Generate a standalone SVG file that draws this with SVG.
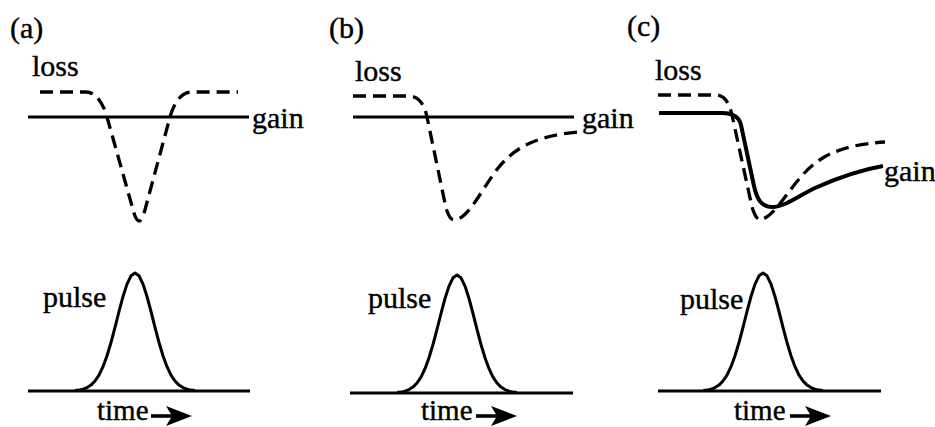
<svg xmlns="http://www.w3.org/2000/svg" width="935" height="427" viewBox="0 0 935 427">
<style>
text{font-family:'Liberation Serif','DejaVu Serif',serif;font-size:30px;fill:#000;stroke:#000;stroke-width:0.4}
.solid{fill:none;stroke:#000;stroke-width:3;stroke-linecap:butt;stroke-linejoin:round}
.thick{fill:none;stroke:#000;stroke-width:4;stroke-linejoin:round}
.dash{fill:none;stroke:#000;stroke-width:3.3;stroke-dasharray:13 7}
.tm{font-size:29px}
</style>
<defs>
<polyline id="pulse" class="solid" points="-60,390.5 -56,390.1 -52,389.2 -48,387.6 -44,385.1 -40,381 -36,375.1 -32,366.7 -28,355.8 -24,342.5 -20,327.4 -16,311.5 -12,296.5 -8,284.1 -4,275.8 0,273 4,275.8 8,284.1 12,296.5 16,311.5 20,327.4 24,342.5 28,355.8 32,366.7 36,375.1 40,381 44,385.1 48,387.6 52,389.2 56,390.1 60,390.5"/>
<g id="arrow">
<path d="M0,0 H24" stroke="#000" stroke-width="3.6"/>
<polygon points="15,-10 41,0 15,10 21,0" fill="#000"/>
</g>
</defs>
<rect width="935" height="427" fill="#fff"/>

<g id="panel-a" font-family="Liberation Serif, DejaVu Serif, serif">
<text x="10" y="38">(a)</text>
<text x="32" y="76">loss</text>
<line class="solid" x1="28" y1="117" x2="249" y2="117"/>
<text x="252" y="128">gain</text>
<path class="dash" d="M40,92 L86,92 C96,92 103,103 107,117 L132,206 C135,218 137,221 139,221 C141,221 143,218 146,206 L170,117 C174,103 181,92 192,92 L238,92"/>
<line class="solid" x1="28" y1="391" x2="250" y2="391"/>
<use href="#pulse" transform="translate(135,0)"/>
<text x="43" y="307">pulse</text>
<text class="tm" x="97" y="420">time</text>
<use href="#arrow" transform="translate(151,416)"/>
</g>

<g id="panel-b" font-family="Liberation Serif, DejaVu Serif, serif">
<text x="329" y="38">(b)</text>
<text x="355" y="81">loss</text>
<line class="solid" x1="353" y1="117" x2="574" y2="117"/>
<text x="582" y="128">gain</text>
<path class="dash" d="M353,96 L408,96 C418,96 424,103 427,117 L446,208 C449,218 451,220 455,220 C468,218 480,193 495,172 C510,152 530,136 578,132"/>
<line class="solid" x1="350" y1="393" x2="573" y2="393"/>
<use href="#pulse" transform="translate(457,2)"/>
<text x="368" y="308">pulse</text>
<text class="tm" x="421" y="420">time</text>
<use href="#arrow" transform="translate(476,416)"/>
</g>

<g id="panel-c" font-family="Liberation Serif, DejaVu Serif, serif">
<text x="627" y="36">(c)</text>
<text x="655" y="80">loss</text>
<path class="dash" d="M658,95 L716,95 C724,95 729,102 732,115 L752,207 C755,217 758,220 761,220 C775,215 785,195 800,178 C815,160 835,145 885,142"/>
<path class="thick" d="M659,113 L722,113 C731,113 739,116 741,125 L754,186 C757,200 762,207 772,207 C785,207 800,195 815,188 C835,179 860,170 883,166"/>
<text x="884" y="181">gain</text>
<line class="solid" x1="658" y1="391" x2="881" y2="391"/>
<use href="#pulse" transform="translate(763,0)"/>
<text x="680" y="309">pulse</text>
<text class="tm" x="734" y="420">time</text>
<use href="#arrow" transform="translate(790,416)"/>
</g>
</svg>
